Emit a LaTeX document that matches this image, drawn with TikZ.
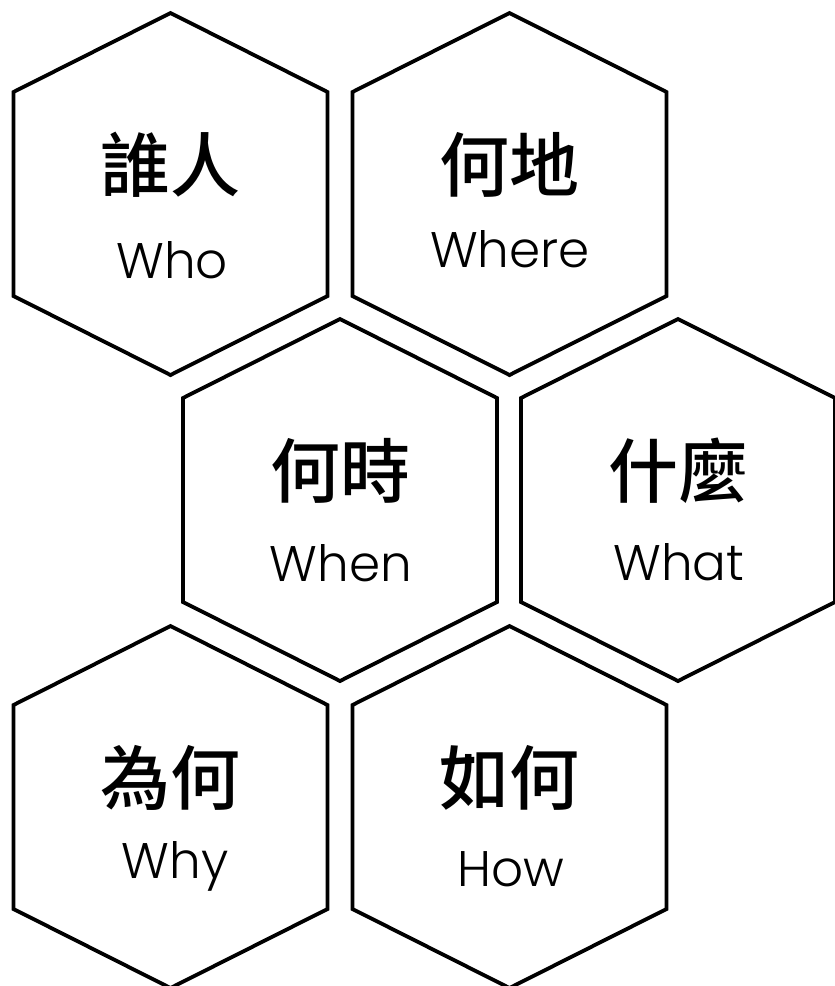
\documentclass[tikz,border=0pt]{standalone}
\usepackage{fontspec}
\setmainfont{Poppins}[UprightFont={* Light}]
\newfontfamily\cjk{Noto Sans CJK TC Medium}
\tikzset{
  hexline/.style={line width=3.8pt, line join=miter, draw=black},
  zh/.style={anchor=base, inner sep=0pt, font=\cjk\fontsize{70}{80}\selectfont},
  en/.style={anchor=base, inner sep=0pt, font=\fontsize{50}{60}\selectfont},
}
\newcommand{\hexagonat}[2]{%
  \draw[hexline] (#1,#2-181) -- (#1+157,#2-102) -- (#1+157,#2+102) -- (#1,#2+181)
    -- (#1-157,#2+102) -- (#1-157,#2-102) -- cycle;}
\begin{document}
\begin{tikzpicture}[x=1pt,y=-1pt]
\useasboundingbox (0,0) rectangle (835,986);
\begin{scope}
\clip (0,0) rectangle (835,986);
\hexagonat{170.5}{194}
\hexagonat{509.5}{194}
\hexagonat{340}{500}
\hexagonat{678}{500}
\hexagonat{170.5}{807}
\hexagonat{509.5}{807}
\end{scope}
\node[zh] (zh1) at (170.5,191) {誰人};
\node[en] (en1) at (172,278) {Who};
\node[zh] (zh2) at (509.5,191) {何地};
\node[en] (en2) at (510,267) {Where};
\node[zh] (zh3) at (340,497) {何時};
\node[en] (en3) at (341,581) {When};
\node[zh] (zh4) at (678,497) {什麼};
\node[en] (en4) at (679,580) {What};
\node[zh] (zh5) at (170.5,804) {為何};
\node[en] (en5) at (175,878) {Why};
\node[zh] (zh6) at (509.5,804) {如何};
\node[en] (en6) at (511,886) {How};
\end{tikzpicture}
\end{document}
